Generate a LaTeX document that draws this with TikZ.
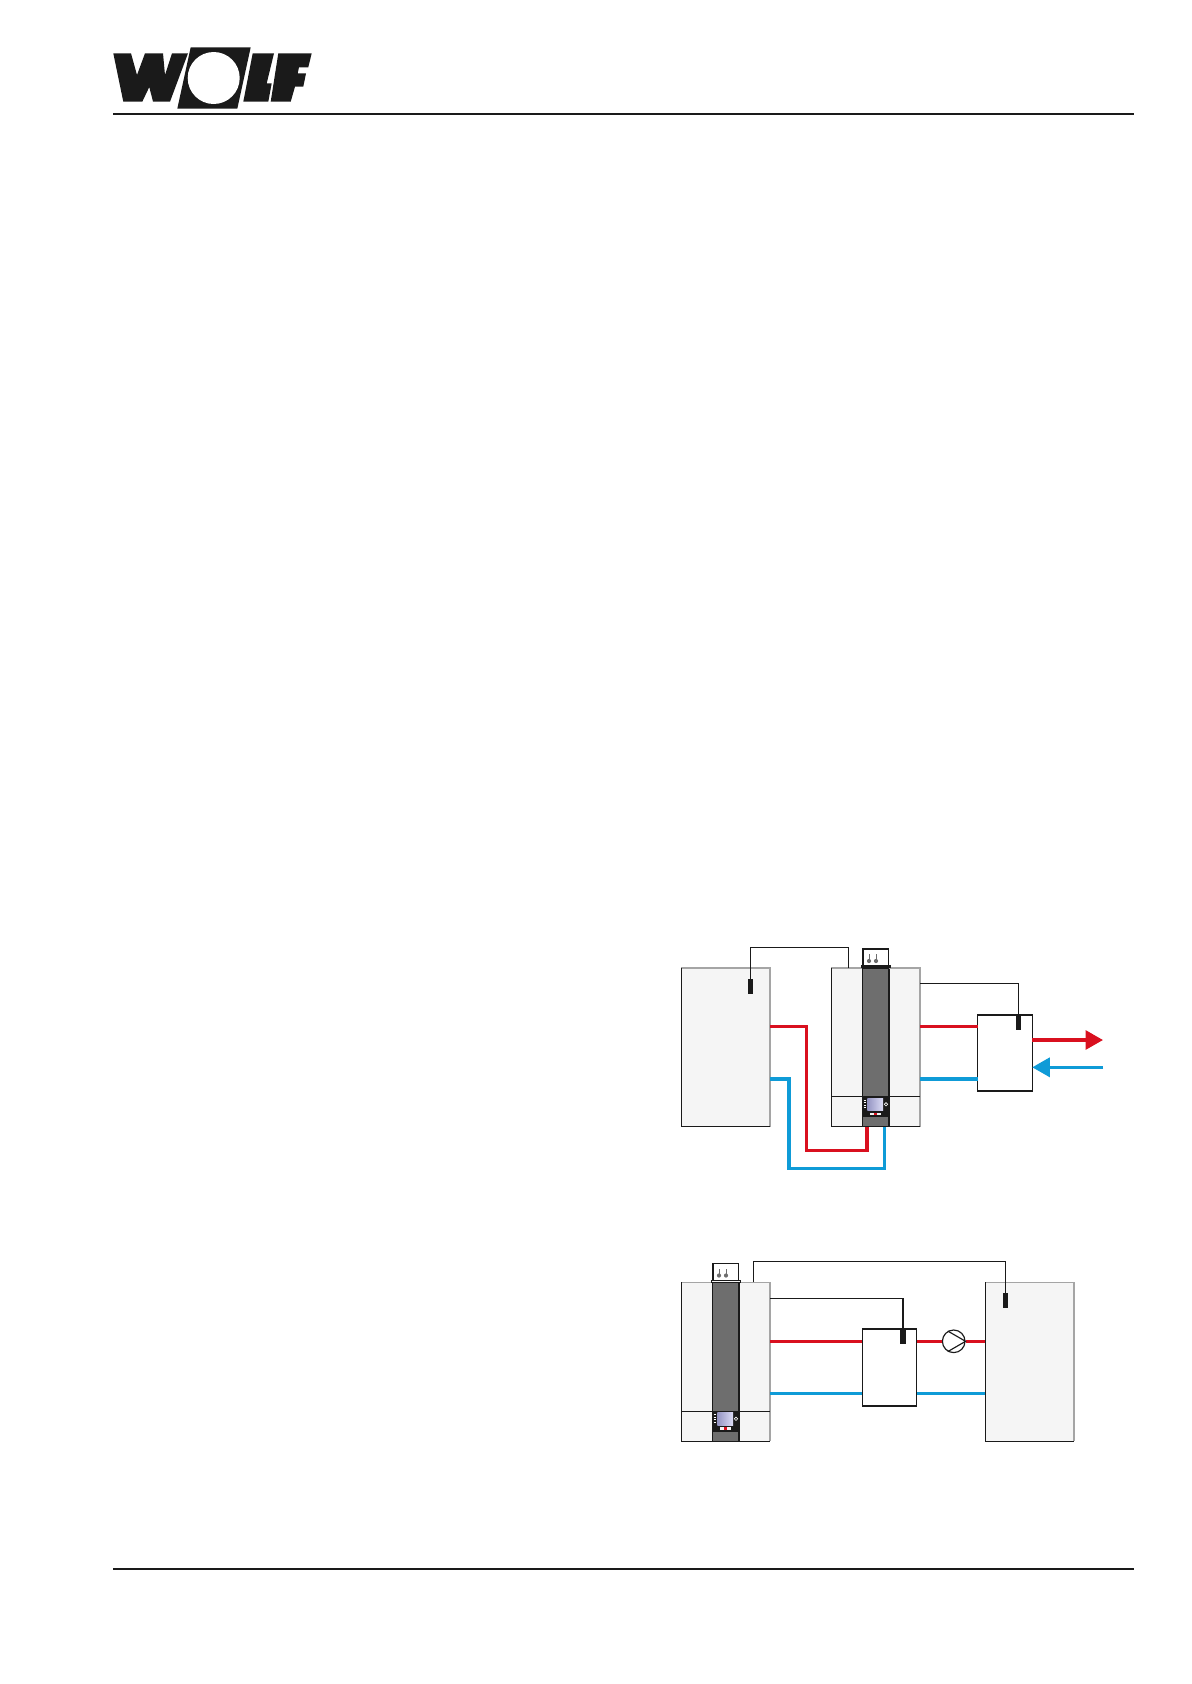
\documentclass[tikz,border=0pt]{standalone}
\usepackage{tikz}
\usetikzlibrary{arrows.meta,positioning,calc}

\definecolor{hotred}{HTML}{D9101F}
\definecolor{coldblue}{HTML}{0F9BD7}
\definecolor{casegrey}{HTML}{F5F5F5}
\definecolor{columngrey}{HTML}{6E6E6E}
\definecolor{edgegrey}{HTML}{A5A5A5}
\definecolor{inkblack}{HTML}{1A1A1A}

\tikzset{
    casebox/.style={draw=none, fill=casegrey, inner sep=0pt, outer sep=0pt, minimum width=88.7\pxunit, minimum height=158.8\pxunit},
    tankbox/.style={draw=inkblack, fill=white, line width=0.7pt, inner sep=0pt, outer sep=0pt, minimum width=54.5\pxunit, minimum height=76.7\pxunit},
    sensorbar/.style={fill=inkblack, inner sep=0pt, outer sep=0pt, minimum width=5.6\pxunit, minimum height=15\pxunit},
    wire/.style={inkblack, line width=0.65pt},
    hotpipe/.style={hotred, line width=1.8pt},
    coldpipe/.style={coldblue, line width=1.8pt},
    rule/.style={inkblack, line width=0.85pt},
}
\newcommand{\pxunit}{*0.02cm}

\begin{document}
\begin{tikzpicture}[x=0.02cm, y=-0.02cm]
    \useasboundingbox (0,0) rectangle (1191,1684);

    % Header and footer
    \coordinate (headL) at (113,114);
    \coordinate (headR) at (1134,114);
    \coordinate (footL) at (113,1569);
    \coordinate (footR) at (1134,1569);
    \draw[rule] (headL) -- (headR);
    \draw[rule] (footL) -- (footR);

    % Logo
    \fill[inkblack] (113.3,53.3) -- (131,53.3) -- (137,75) -- (145,53.3) -- (163,53.3) -- (165,75) -- (172,53.3) -- (188,53.3) -- (170,101.7) -- (153,101.7) -- (149.3,87) -- (142.3,101.7) -- (123.3,101.7) -- cycle;
    \fill[inkblack] (190.7,47.3) -- (250.7,47.3) -- (237.3,108.7) -- (177.3,108.7) -- cycle;
    \fill[white] (213.7,78) circle (26);
    \fill[inkblack] (252.7,53.3) -- (274,53.3) -- (266.7,83.3) -- (271.7,83.3) -- (268.3,101.7) -- (243.3,101.7) -- cycle;
    \fill[inkblack] (278.3,53.3) -- (311.7,53.3) -- (308.3,67.3) -- (299,67.3) -- (297.7,73.3) -- (306,73.3) -- (303.3,86.7) -- (295,86.7) -- (290.7,101.7) -- (270.7,101.7) -- cycle;

    % Boilers
    \foreach \bname/\bx/\by in {boilerA/875.7/1047.3, boilerB/725.7/1361.8} {
        \begin{scope}[shift={(\bx,\by)}]
            \node[casebox] (\bname) at (0,0) {};
            \fill[columngrey] (-13.4,-79.4) rectangle (13.4,79.4);
            \draw[inkblack, line width=0.7pt] (-13.4,-79.4) -- (-13.4,79.4);
            \draw[inkblack, line width=0.7pt] (13.4,-79.4) -- (13.4,79.4);
            \draw[edgegrey, line width=0.8pt] (-44.3,-79.4) -- (44.3,-79.4) -- (44.3,79.4);
            \draw[inkblack, line width=0.7pt] (-44.3,-79.4) -- (-44.3,79.4) -- (44.3,79.4);
            \draw[inkblack, line width=0.7pt] (-44.3,49.5) -- (44.3,49.5);
            % control panel
            \fill[inkblack] (-13.4,49.5) rectangle (13.4,70);
            \shade[left color=columngrey!70!blue!60, right color=casegrey!90!blue] (-8.4,51) rectangle (7.4,63.4);
            \foreach \ty in {53,55.5,58,60.5} {
                \draw[white, line width=0.4pt] (-12,\ty) -- (-9.5,\ty);
            }
            \draw[white, line width=0.35pt] (10.3,57) circle (1.7);
            \fill[casegrey] (-5.5,65.4) rectangle (5.5,67.8);
            \fill[hotred] (-1.5,65.4) rectangle (1.5,67.8);
            % sensor head
            \node[draw=inkblack, fill=white, line width=0.7pt, inner sep=0pt, minimum width=25.4\pxunit, minimum height=19\pxunit] (\bname head) at (0,-88.7) {};
            \draw[inkblack, fill=casegrey, line width=0.6pt] (-14.4,-81.3) rectangle (14.4,-79.6);
            \foreach \sx in {-6.7,0.3} {
                \fill[columngrey] (\sx,-86.3) circle (2.1);
                \draw[columngrey, line width=0.5pt] (\sx,-86.3) -- (\sx,-93);
            }
        \end{scope}
    }

    % Upper scheme, heat unit
    \node[casebox] (unitA) at (725.7,1047.3) {};
    \draw[edgegrey, line width=0.8pt] (681.3,968) -- (770,968) -- (770,1126.7);
    \draw[inkblack, line width=0.7pt] (681.3,968) -- (681.3,1126.7) -- (770,1126.7);
    \node[sensorbar] (sensorA) at (750.3,986.5) {};
    \node[tankbox] (tankA) at (1005,1053) {};
    \draw[inkblack, line width=1pt] (tankA.north west) -- (tankA.north east);
    \draw[inkblack, line width=1pt] (tankA.south west) -- (tankA.south east);
    \node[sensorbar] (sensorC) at (1018.3,1022.5) {};

    % Lower scheme, heat unit
    \node[casebox] (unitB) at (1029.7,1361.8) {};
    \draw[edgegrey, line width=0.8pt] (985.3,1282.4) -- (1074,1282.4) -- (1074,1441.2);
    \draw[inkblack, line width=0.7pt] (985.3,1282.4) -- (985.3,1441.2) -- (1074,1441.2);
    \node[sensorbar] (sensorB) at (1005.3,1300.5) {};
    \node[tankbox] (tankB) at (889.5,1367.7) {};
    \draw[inkblack, line width=1pt] (tankB.north west) -- (tankB.north east);
    \draw[inkblack, line width=1.6pt] (tankB.south west) -- (tankB.south east);
    \node[sensorbar] (sensorD) at (903,1336.5) {};
    \node[draw=inkblack, fill=white, circle, line width=0.65pt, inner sep=0pt, minimum size=22.6\pxunit] (pumpB) at (953.7,1341.3) {};

    % Wires
    \coordinate (wireA) at (848.7,968);
    \coordinate (wireB) at (750.3,947.3);
    \coordinate (wireC) at (920,983.3);
    \coordinate (wireD) at (753.3,1282.4);
    \coordinate (wireE) at (1005.3,1261.7);
    \coordinate (wireF) at (770,1298.3);
    \draw[wire] (wireA) |- (wireB) -- (sensorA.north);
    \draw[wire] (wireC) -| (sensorC.north);
    \draw[wire] (wireD) |- (wireE) -- (sensorB.north);
    \draw[wire] (wireF) -| (sensorD.north);

    % Upper pipes
    \coordinate (hotA) at (770,1026.3);
    \coordinate (hotAb) at (806.3,1150.7);
    \coordinate (hotAc) at (867,1126.7);
    \coordinate (coldA) at (770,1079);
    \coordinate (coldAb) at (789,1168.7);
    \coordinate (coldAc) at (884.3,1126.7);
    \draw[hotpipe] (hotA) -| (hotAb) -| (hotAc);
    \draw[coldpipe] (coldA) -| (coldAb) -| (coldAc);
    \draw[hotpipe] (boilerA.east |- hotA) -- (tankA.west |- hotA);
    \draw[coldpipe] (boilerA.east |- coldA) -- (tankA.west |- coldA);

    % Outlets
    \coordinate (outHot) at (1103,1040);
    \coordinate (inCold) at (1103,1067.3);
    \draw[hotpipe, -{Triangle[length=17.5\pxunit, width=19\pxunit]}] (tankA.east |- outHot) -- (outHot);
    \draw[coldpipe, -{Triangle[length=17.5\pxunit, width=19\pxunit]}] (inCold) -- (tankA.east |- inCold);

    % Lower pipes
    \coordinate (hotB) at (770,1341.3);
    \coordinate (coldB) at (770,1393.3);
    \draw[hotpipe] (boilerB.east |- hotB) -- (tankB.west |- hotB);
    \draw[hotpipe] (tankB.east |- hotB) -- (pumpB.west);
    \draw[hotpipe] (pumpB.east) -- (unitB.west |- hotB);
    \draw[coldpipe] (boilerB.east |- coldB) -- (tankB.west |- coldB);
    \draw[coldpipe] (tankB.east |- coldB) -- (unitB.west |- coldB);

    % Pump triangle
    \draw[wire] (pumpB.120) -- (pumpB.east) -- (pumpB.240);
\end{tikzpicture}
\end{document}
